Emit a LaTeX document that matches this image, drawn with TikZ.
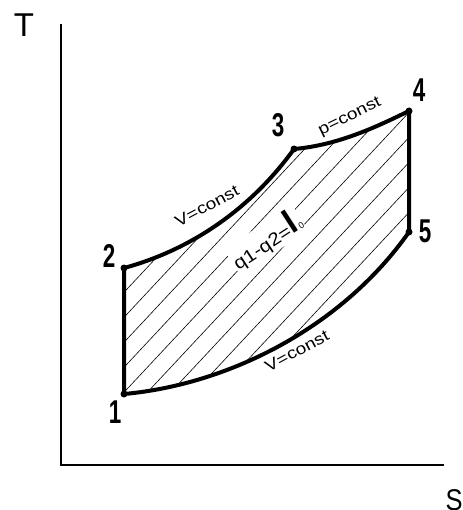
\documentclass[tikz,border=0pt]{standalone}
\usepackage{fontspec}
\setmainfont{Liberation Sans}
\begin{document}
\begin{tikzpicture}[x=1pt,y=-1pt,
  axis/.style={line width=2.6pt},
  cyc/.style={line width=4pt,line join=round,line cap=round},
  hatch/.style={line width=0.6pt},
  num/.style={inner sep=0pt,font=\fontsize{33}{33}\selectfont\bfseries},
  lbl/.style={inner sep=1pt,font=\fontsize{16}{16}\selectfont},
  vert/.style={circle,fill,inner sep=0pt,minimum size=7pt}]
\useasboundingbox (0,0) rectangle (462,510);
% axes
\coordinate (o) at (61,465);
\coordinate (ty) at (61,24);
\coordinate (sx) at (444,465);
\draw[axis] (ty) -- (o) -- (sx);
\node[inner sep=0pt,font=\fontsize{33}{33}\selectfont] (tl) at (24,25) {T};
\node[inner sep=0pt,font=\fontsize{30}{30}\selectfont,anchor=north] (sl) at (454,489) {\scalebox{0.85}[1]{S}};
% cycle points
\coordinate (p1) at (124,394);
\coordinate (p2) at (124,268);
\coordinate (p3) at (294,149);
\coordinate (p4) at (409,111);
\coordinate (p5) at (409,232);
% hatching
\begin{scope}
\clip (p1) -- (p2) .. controls (190,250) and (250,210) .. (p3)
  .. controls (340,145) and (380,125) .. (p4) -- (p5)
  .. controls (340,330) and (225,385) .. (p1) -- cycle;
\foreach \k in {-2,...,13}
  \draw[hatch] (100,{293+25*\k}) -- ++(400,-428);
\end{scope}
% cycle
\draw[cyc] (p1) -- (p2) .. controls (190,250) and (250,210) .. (p3)
  .. controls (340,145) and (380,125) .. (p4) -- (p5)
  .. controls (340,330) and (225,385) .. (p1) -- cycle;
\foreach \p in {p1,p2,p3,p4,p5} \node[vert] at (\p) {};
% numbers
\node[num] (n1) at (115,412) {\scalebox{0.68}[1]{1}};
\node[num] (n2) at (109,256) {\scalebox{0.68}[1]{2}};
\node[num] (n3) at (278,125) {\scalebox{0.68}[1]{3}};
\node[num] (n4) at (419,90) {\scalebox{0.68}[1]{4}};
\node[num] (n5) at (425,231) {\scalebox{0.68}[1]{5}};
% labels
\node[lbl,rotate=28] (v23) at (207,206) {\scalebox{1.2}[1]{V=const}};
\node[lbl,rotate=26] (p34) at (350,117) {\scalebox{1.2}[1]{p=const}};
\node[lbl,rotate=28] (v51) at (297,351) {\scalebox{1.2}[1]{V=const}};
\node[fill=white,inner sep=1pt,rotate=33] (q) at (266,240)
  {\scalebox{1.15}[1]{\fontsize{18}{18}\selectfont q1-q2=}{\fontsize{34}{34}\selectfont\bfseries l}{\fontsize{9}{9}\selectfont 0}};
\end{tikzpicture}
\end{document}
